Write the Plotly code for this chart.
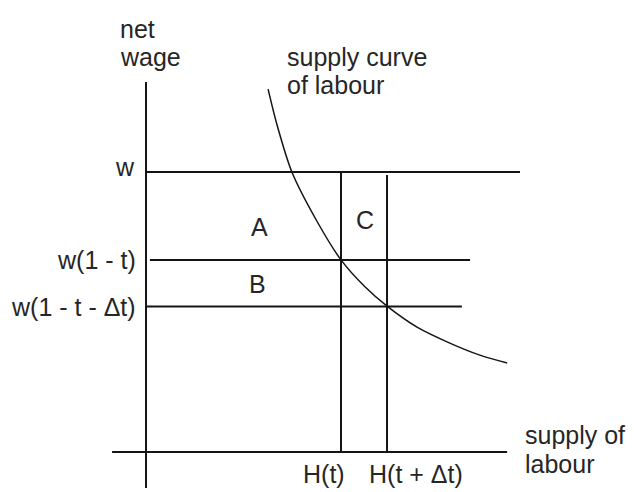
import plotly.graph_objects as go

# wage levels on the vertical axis
wage_labels = ["w", "w(1 - t)", "w(1 - t - \u0394t)"]
wage_levels = [10.0, 6.86, 5.2]

# labour supplied at the two net wages
hours_labels = ["H(t)", "H(t + \u0394t)"]
hours_levels = [5.0, 6.18]

# supply curve of labour
curve_x = [3.13, 3.36, 3.74, 4.38, 5.0, 5.62, 6.18, 6.95, 7.79, 8.56, 9.26]
curve_y = [12.96, 11.68, 10.0, 8.25, 6.86, 5.89, 5.21, 4.46, 3.89, 3.46, 3.18]

area_labels = ["A", "B", "C"]

ink = "#151515"
txt = "#262626"
font = dict(family="Liberation Sans, Arial, sans-serif", size=25, color=txt)

fig = go.Figure()


def seg(x0, x1, y0, y1, w=2):
    fig.add_trace(go.Scatter(x=[x0, x1], y=[y0, y1], mode="lines",
                             line=dict(color=ink, width=w), hoverinfo="skip"))


# axes
seg(0, 0, -1.29, 13.21)
seg(-0.87, 9.26, 0, 0)

# horizontal wage lines
wage_ends = [(0, 9.59), (0.1, 8.31), (0, 8.1)]
for lvl, (a, b) in zip(wage_levels, wage_ends):
    seg(a, b, lvl, lvl)

# vertical hours lines
hours_tops = [wage_levels[0], 9.89]
for h, top in zip(hours_levels, hours_tops):
    seg(h, h, 0, top)

# supply curve
fig.add_trace(go.Scatter(x=curve_x, y=curve_y, mode="lines", line_shape="spline",
                         line=dict(color=ink, width=1.5, smoothing=0.8), hoverinfo="skip"))

ann = []


def label(text, x, y, xa="center", xs=0, ys=0):
    ann.append(dict(text=text, x=x, y=y, xref="x", yref="y", showarrow=False,
                    xanchor=xa, yanchor="middle", xshift=xs, yshift=ys, font=font))


label("net", -0.72, 15.11, "left")
label("wage", -0.72, 14.11, "left")
label("supply curve", 3.56, 14.11, "left")
label("of labour", 3.56, 13.11, "left")

label(wage_labels[0], 0, wage_levels[0], "right", -9, 5)
label(wage_labels[1], 0, wage_levels[1], "right", -8, 0)
label(wage_labels[2], 0, wage_levels[2], "right", -8, -1)

label(area_labels[0], 2.92, 8.04)
label(area_labels[1], 2.87, 6.0)
label(area_labels[2], 5.62, 8.29)

label(hours_labels[0], hours_levels[0], -0.79, "center", -17)
label(hours_labels[1], hours_levels[1], -0.79, "center", 29)

label("supply of", 9.67, 0.61, "left")
label("labour", 9.67, -0.43, "left")

fig.update_layout(
    width=634, height=492,
    margin=dict(l=0, r=0, t=0, b=0),
    paper_bgcolor="white", plot_bgcolor="white",
    showlegend=False,
    annotations=ann,
    xaxis=dict(range=[-3.744, 12.513], visible=False, fixedrange=True),
    yaxis=dict(range=[-1.4286, 16.143], visible=False, fixedrange=True),
)

fig.write_html("out.html", config={"displayModeBar": False},
               post_script="document.body.style.margin='0';")
